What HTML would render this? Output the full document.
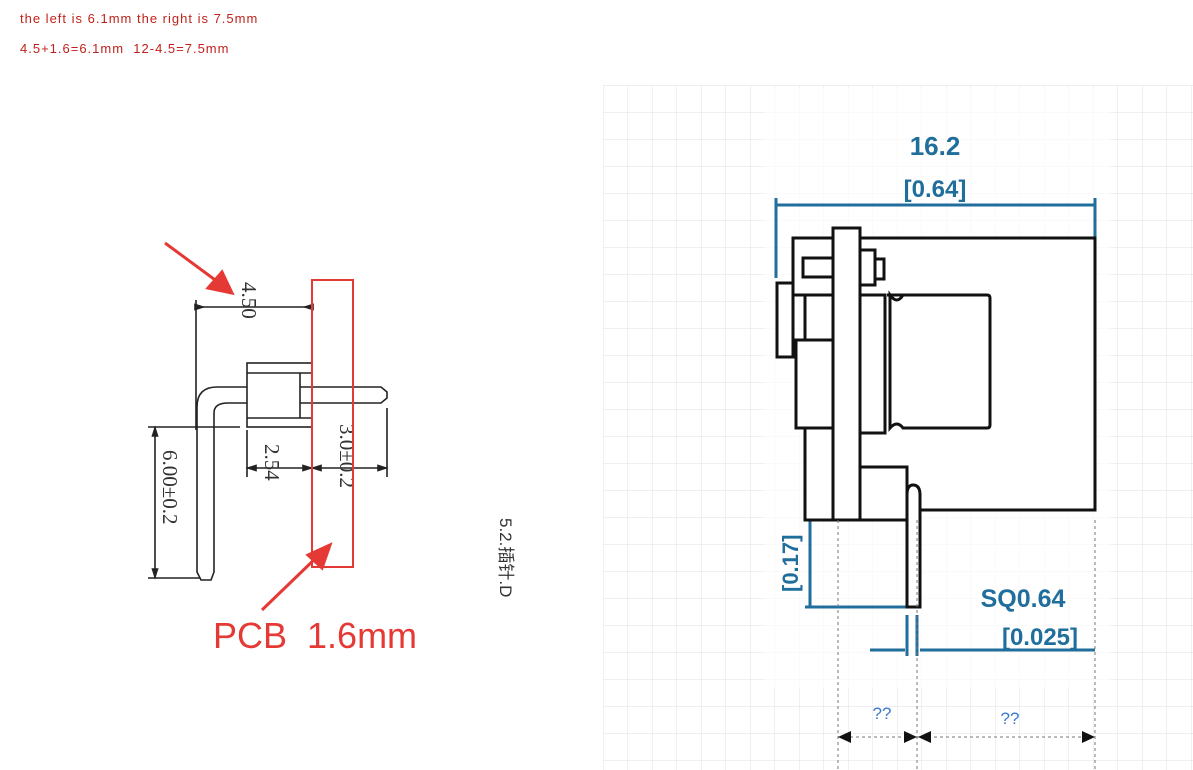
<!DOCTYPE html>
<html><head><meta charset="utf-8"><style>
html,body{margin:0;padding:0;background:#fff;}
svg{display:block;}
</style></head><body>
<svg width="1193" height="770" viewBox="0 0 1193 770" xmlns="http://www.w3.org/2000/svg" font-family="Liberation Sans, sans-serif">
<defs>
<pattern id="g" width="24.5" height="27" patternUnits="userSpaceOnUse" x="603" y="85">
<path d="M0 0H24.5M0 0V27" stroke="#e2e2e2" stroke-width="1" fill="none"/>
</pattern>
</defs>
<rect x="603" y="85" width="590" height="685" fill="url(#g)"/>
<text x="20" y="23" font-size="13" fill="#c0221b" letter-spacing="1">the left is 6.1mm the right is 7.5mm</text>
<text x="20" y="53" font-size="13" fill="#c0221b" letter-spacing="1" xml:space="preserve">4.5+1.6=6.1mm  12-4.5=7.5mm</text>

<!-- LEFT DRAWING -->
<g stroke="#222" stroke-width="1.6" fill="none">
<line x1="196" y1="300" x2="196" y2="430"/>
<line x1="196" y1="307" x2="312" y2="307"/>
<path d="M203 307l-8-2.5v5z M305 307l8-2.5v5z" fill="#222"/>
<line x1="312" y1="300" x2="312" y2="362"/>
<rect x="247" y="363" width="65" height="64"/>
<line x1="300" y1="373" x2="300" y2="418"/>
<line x1="247" y1="373" x2="312" y2="373"/>
<line x1="247" y1="418" x2="312" y2="418"/>
<path d="M247 387H217Q197 387 197 407V572L201 580H211L214 572V413Q214 403 228 403H247"/>
<path d="M300 387H381L387 392V398L381 403H300"/>
<line x1="148" y1="427" x2="240" y2="427"/>
<line x1="148" y1="578" x2="200" y2="578"/>
<line x1="155" y1="427" x2="155" y2="578"/>
<path d="M155 428l-2.5 8h5z M155 577l-2.5-8h5z" fill="#222"/>
<line x1="247" y1="430" x2="247" y2="477"/>
<line x1="387" y1="408" x2="387" y2="477"/>
<line x1="247" y1="468" x2="387" y2="468"/>
<path d="M248 468l8-2.5v5z M311 468l-8-2.5v5z M313 468l8-2.5v5z M386 468l-8-2.5v5z" fill="#222"/>
</g>
<g font-family="Liberation Serif, serif" font-size="21" fill="#333">
<text transform="translate(242,282) rotate(90)">4.50</text>
<text transform="translate(163,450) rotate(90)">6.00±0.2</text>
<text transform="translate(265,444) rotate(90)">2.54</text>
<text transform="translate(340,424) rotate(90)">3.0±0.2</text>
</g>
<rect x="312" y="280" width="41" height="287" fill="none" stroke="#e53935" stroke-width="2"/>
<g stroke="#e53935" stroke-width="3" fill="#e53935">
<line x1="165" y1="243" x2="222" y2="285"/>
<path d="M232 293L208 288L222 272Z"/>
<line x1="262" y1="610" x2="318" y2="556"/>
<path d="M330 545L322 568L308 555Z"/>
</g>
<text x="213" y="648" font-size="36" fill="#e53935" xml:space="preserve">PCB  1.6mm</text>
<text transform="translate(500,518) rotate(90)" font-size="17" fill="#333" font-family="Liberation Sans, 'Noto Sans CJK SC', sans-serif">5.2.插针.D</text>

<!-- RIGHT DRAWING -->
<rect x="765" y="88" width="345" height="600" fill="#fff" opacity="0.7"/>
<g stroke="#1f6e9c" stroke-width="3" fill="none">
<line x1="776" y1="198" x2="776" y2="278"/>
<line x1="1095" y1="198" x2="1095" y2="240"/>
<line x1="776" y1="205" x2="1095" y2="205"/>
<line x1="810" y1="520" x2="810" y2="607"/>
<line x1="805" y1="607" x2="920" y2="607"/>
<line x1="870" y1="650" x2="905" y2="650"/>
<line x1="907" y1="615" x2="907" y2="656"/>
<line x1="917" y1="615" x2="917" y2="656"/>
<line x1="920" y1="650" x2="1095" y2="650"/>
</g>
<g fill="#1f6e9c" font-weight="bold" font-size="26">
<text x="935" y="155" text-anchor="middle">16.2</text>
<text x="935" y="197" text-anchor="middle" font-size="24">[0.64]</text>
<text x="1023" y="607" text-anchor="middle" font-size="25">SQ0.64</text>
<text x="1040" y="645" text-anchor="middle" font-size="24">[0.025]</text>
<text transform="translate(798,592) rotate(-90)" font-size="22">[0.17]</text>
</g>
<g stroke="#111" stroke-width="3" fill="#fff">
<rect x="860" y="238" width="235" height="272"/>
<rect x="777" y="283" width="16" height="74"/>
<rect x="793" y="238" width="40" height="57"/>
<rect x="803" y="258" width="30" height="19"/>
<rect x="805" y="295" width="28" height="45"/>
<rect x="796" y="340" width="37" height="88"/>
<rect x="805" y="428" width="28" height="92"/>
<rect x="860" y="250" width="15" height="35"/>
<rect x="875" y="259" width="9" height="20"/>
<rect x="860" y="295" width="25" height="138"/>
<path d="M887 295H987Q990 295 990 298V425Q990 428 987 428H903Q897 420 890 428V295Q897 305 903 295"/>
<rect x="860" y="467" width="47" height="53"/>
<path d="M907 607V495Q907 485 913 485Q920 485 920 495V607Z"/>
<rect x="833" y="228" width="27" height="292"/>
</g>
<g stroke="#777" stroke-width="1" stroke-dasharray="3,3">
<line x1="838" y1="520" x2="838" y2="770"/>
<line x1="917" y1="520" x2="917" y2="770"/>
<line x1="1095" y1="520" x2="1095" y2="770"/>
<line x1="838" y1="737" x2="1095" y2="737"/>
</g>
<g fill="#111">
<path d="M838 737l13-6v12z M917 737l-13-6v12z M918 737l13-6v12z M1095 737l-13-6v12z"/>
</g>
<text x="882" y="719" font-size="17" fill="#3a78d0" text-anchor="middle">??</text>
<text x="1010" y="724" font-size="17" fill="#3a78d0" text-anchor="middle">??</text>
</svg>
</body></html>
